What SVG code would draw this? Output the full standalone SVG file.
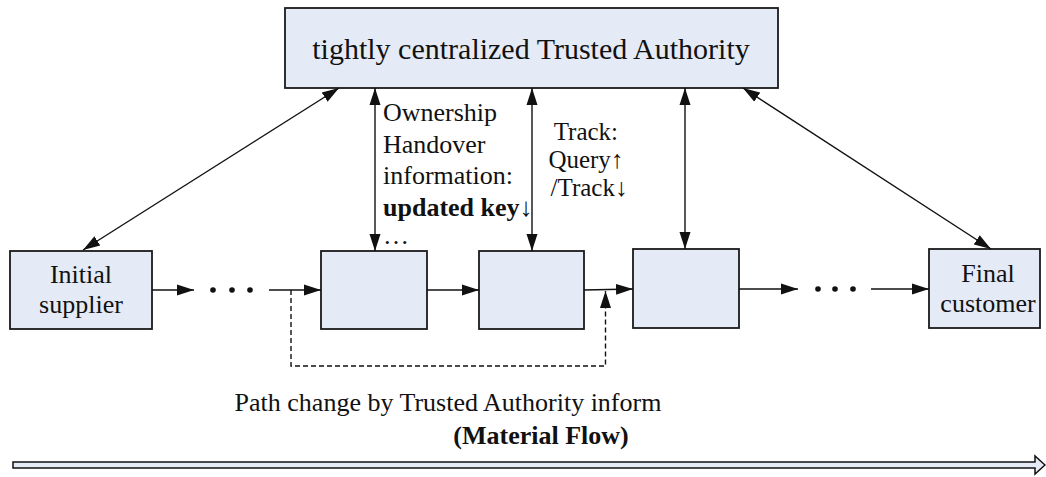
<svg xmlns="http://www.w3.org/2000/svg" width="1046" height="477" viewBox="0 0 1046 477">
  <style>
    .box { fill: #e5ebf6; stroke: #1a1a1a; stroke-width: 1.8; }
    .txt { font-family: "Liberation Serif", "Times New Roman", serif; fill: #111; }
    .link { stroke: #111; stroke-width: 1.4; fill: none; }
    .dash { stroke: #111; stroke-width: 1.4; fill: none; stroke-dasharray: 5 3; }
    .dot { fill: #111; }
  </style>
  <defs>
    <marker id="ah" markerUnits="userSpaceOnUse" markerWidth="18" markerHeight="13" refX="17" refY="6.5" orient="auto-start-reverse">
      <path d="M0,1 L17,6.5 L0,12 Z" fill="#111"/>
    </marker>
  </defs>

  <rect width="1046" height="477" fill="#fff"/>

  <!-- Trusted Authority -->
  <g id="authority">
    <rect class="box" x="285" y="8" width="493" height="80"/>
    <text class="txt" x="531" y="59" font-size="30" text-anchor="middle">tightly centralized Trusted Authority</text>
  </g>

  <!-- supply chain members -->
  <g id="initial-supplier">
    <rect class="box" x="10" y="251" width="142" height="78"/>
    <text class="txt" x="81" y="283" font-size="26" text-anchor="middle">Initial</text>
    <text class="txt" x="81" y="313" font-size="26" text-anchor="middle">supplier</text>
  </g>
  <g id="member-a">
    <rect class="box" x="321" y="251" width="106" height="78"/>
  </g>
  <g id="member-b">
    <rect class="box" x="479" y="251" width="105" height="78"/>
  </g>
  <g id="member-c">
    <rect class="box" x="633" y="249" width="106" height="79"/>
  </g>
  <g id="final-customer">
    <rect class="box" x="929" y="249" width="111" height="79"/>
    <text class="txt" x="988" y="282" font-size="26" text-anchor="middle">Final</text>
    <text class="txt" x="988" y="312" font-size="26" text-anchor="middle">customer</text>
  </g>

  <!-- connectors -->
  <g id="connectors">
    <!-- links to the authority -->
    <line class="link" x1="339" y1="88" x2="83" y2="250" marker-start="url(#ah)" marker-end="url(#ah)"/>
    <line class="link" x1="375" y1="88" x2="375" y2="251" marker-start="url(#ah)" marker-end="url(#ah)"/>
    <line class="link" x1="532" y1="88" x2="532" y2="251" marker-start="url(#ah)" marker-end="url(#ah)"/>
    <line class="link" x1="685" y1="88" x2="685" y2="249" marker-start="url(#ah)" marker-end="url(#ah)"/>
    <line class="link" x1="743" y1="88" x2="991" y2="249" marker-start="url(#ah)" marker-end="url(#ah)"/>

    <!-- material flow between members -->
    <line class="link" x1="152" y1="290" x2="194" y2="290" marker-end="url(#ah)"/>
    <circle class="dot" cx="213" cy="290" r="2.8"/>
    <circle class="dot" cx="232" cy="290" r="2.8"/>
    <circle class="dot" cx="250" cy="290" r="2.8"/>
    <line class="link" x1="269" y1="290" x2="321" y2="290" marker-end="url(#ah)"/>
    <line class="link" x1="427" y1="290" x2="479" y2="290" marker-end="url(#ah)"/>
    <line class="link" x1="584" y1="290" x2="633" y2="289" marker-end="url(#ah)"/>
    <line class="link" x1="739" y1="289" x2="798" y2="289" marker-end="url(#ah)"/>
    <circle class="dot" cx="818" cy="289" r="2.8"/>
    <circle class="dot" cx="835" cy="289" r="2.8"/>
    <circle class="dot" cx="853" cy="289" r="2.8"/>
    <line class="link" x1="871" y1="289" x2="929" y2="289" marker-end="url(#ah)"/>

    <!-- rerouted path -->
    <path class="dash" d="M291,290 V366 H605.5 V291" marker-end="url(#ah)"/>
  </g>

  <!-- labels -->
  <g id="labels">
    <text class="txt" font-size="26">
      <tspan x="383" y="121">Ownership</tspan>
      <tspan x="383" y="152.5">Handover</tspan>
      <tspan x="383" y="184">information:</tspan>
      <tspan x="383" y="215.5"><tspan font-weight="bold">updated key</tspan>↓</tspan>
      <tspan x="383" y="244">…</tspan>
    </text>
    <text class="txt" font-size="25" text-anchor="middle">
      <tspan x="589" y="140">Track:</tspan>
      <tspan x="589" y="168">Query↑</tspan>
      <tspan x="589" y="196">/Track↓</tspan>
    </text>
    <text class="txt" x="448" y="411" font-size="26" text-anchor="middle">Path change by Trusted Authority inform</text>
    <text class="txt" x="541" y="444" font-size="26" font-weight="bold" text-anchor="middle">(Material Flow)</text>
  </g>

  <!-- overall flow direction -->
  <g id="flow-arrow">
    <path d="M13,462 H1035 V456 L1045,465 L1035,474 V468 H13 Z" fill="#e5ebf6" stroke="#111" stroke-width="1.5"/>
  </g>
</svg>
